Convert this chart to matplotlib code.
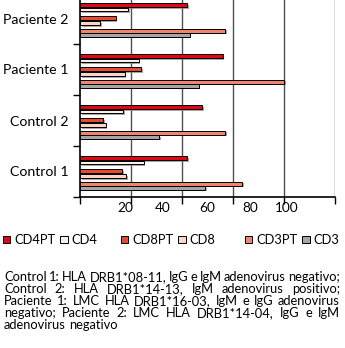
import numpy as np
import matplotlib
matplotlib.use("Agg")
import matplotlib.pyplot as plt
import matplotlib.patheffects as pe
from matplotlib.patches import Rectangle

plt.rcParams['font.family'] = ['Lato', 'DejaVu Sans']

# -------------------------
#          Data
# -------------------------
groups = ["Control 1", "Control 2", "Paciente 1", "Paciente 2"]
series = ["CD4PT", "CD4", "CD8PT", "CD8", "CD3PT", "CD3"]
colors = ["#e30613", "#fdf0ea", "#e84a2f", "#fbd5c5", "#f0856a", "#a6a6a6"]

cd4pt = [42, 48, 56, 42]
cd4 = [25, 17, 23, 19]
cd8pt = [16.5, 9, 24, 14]
cd8 = [18, 10, 17.5, 8]
cd3pt = [63.5, 57, 80, 57]
cd3 = [49, 31, 46.5, 43]
values = [cd4pt, cd4, cd8pt, cd8, cd3pt, cd3]

xticks = [0, 20, 40, 60, 80, 100]
xtick_labels = ["0", "20", "40", "60", "80", "100"]
# labels sit offset from their ticks in the original
xtick_label_pos = [0, 17.6, 32.4, 49.8, 66.7, 81.0]

caption_lines = [
    "Control 1: HLA DRB1*08-11, IgG e IgM adenovirus negativo;",
    "Control 2: HLA DRB1*14-13, IgM adenovirus positivo;",
    "Paciente 1: LMC HLA DRB1*16-03, IgM e IgG adenovirus",
    "negativo; Paciente 2: LMC HLA DRB1*14-04, IgG e IgM",
    "adenovirus negativo",
]

# -------------------------
#          Figure
# -------------------------
W, H = 345, 348
fs = 9.3
fig = plt.figure(figsize=(W / 100, H / 100), dpi=100)

# axes in pixel units: left 80, right 335, bottom 197 (from top), top -7
ax_l, ax_r, ax_b, ax_t = 80, 335, 197, -7
ax = fig.add_axes([ax_l / W, (H - ax_b) / H, (ax_r - ax_l) / W, (ax_b - ax_t) / H])

# bar offsets inside a group (downwards, in group units)
offsets = np.array([-13.2, -9.0, -0.2, 4.5, 12.2, 16.4]) / 51.0
bar_h = 0.075
ypos = np.arange(len(groups))

shadow = [pe.withSimplePatchShadow(offset=(1.2, -1.2), shadow_rgbFace="#808080", alpha=0.7)]
for k in range(len(series)):
    bars = ax.barh(ypos - offsets[k], values[k], height=bar_h, color=colors[k],
                   edgecolor="black", linewidth=0.7, zorder=3)
    for b in bars:
        b.set_path_effects(shadow)

ax.set_xlim(0, 100)
ax.set_ylim(-0.5, len(groups) - 0.5)

for g in xticks[1:]:
    ax.axvline(g, color="#505050", lw=1.0, zorder=1)

ax.set_xticks(xticks)
ax.set_xticklabels([])
ax.tick_params(axis="x", which="major", direction="out", length=5, width=1, color="black")
ax.set_xticks(xtick_label_pos, xtick_labels, minor=True)
ax.tick_params(axis="x", which="minor", length=0, pad=3.5, labelsize=9.8)

ax.set_yticks(ypos, groups)
ax.tick_params(axis="y", which="major", length=0, pad=8.5, labelsize=10.2)
ax.set_yticks(np.arange(len(groups) + 1) - 0.5, minor=True)
ax.tick_params(axis="y", which="minor", direction="out", length=5, width=1, color="black")

for s in ["top", "right"]:
    ax.spines[s].set_visible(False)
for s in ["left", "bottom"]:
    ax.spines[s].set_color("black")
    ax.spines[s].set_linewidth(1.2)

# -------------------------
#          Legend
# -------------------------
handles = [Rectangle((0, 0), 1, 1, facecolor=c, edgecolor="black", linewidth=0.7) for c in colors]
legend_x = [3, 121, 245]
for j in range(3):
    leg = fig.legend(handles[2 * j:2 * j + 2], series[2 * j:2 * j + 2], ncol=2,
                     loc="center left", bbox_to_anchor=(legend_x[j] / W, 1 - 240 / H),
                     frameon=False, fontsize=fs, handlelength=0.55, handleheight=0.55,
                     handletextpad=0.3, columnspacing=0.4, borderpad=0, borderaxespad=0)

# -------------------------
#     Justified caption
# -------------------------
renderer = fig.canvas.get_renderer()


def word_width(s):
    t = fig.text(0, 0, s, fontsize=fs)
    w = t.get_window_extent(renderer).width
    t.remove()
    return w


cap_x0, cap_x1 = 4, 340
line_base = [281, 293, 305, 317, 329]
for i, line in enumerate(caption_lines):
    words = line.split(" ")
    widths = [word_width(w) for w in words]
    if i < len(caption_lines) - 1:
        gap = (cap_x1 - cap_x0 - sum(widths)) / (len(words) - 1)
    else:
        gap = word_width("a a") - 2 * word_width("a")
    x = cap_x0
    for w, wd in zip(words, widths):
        fig.text(x / W, 1 - line_base[i] / H, w, fontsize=fs, va="baseline", ha="left")
        x += wd + gap

fig.savefig("out.png", dpi=100)
